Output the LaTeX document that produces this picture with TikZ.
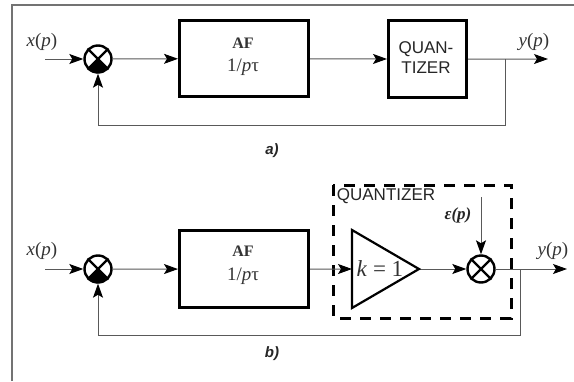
\documentclass[tikz,border=0pt]{standalone}
\usepackage{fontspec}
\setmainfont{Liberation Serif}
\newfontfamily\lsans{Liberation Sans}
\usetikzlibrary{arrows.meta,calc}
\definecolor{wire}{gray}{0.35}
\tikzset{
  wireline/.style={draw=wire,line width=1pt},
  sig/.style={wireline,-{Stealth[length=14pt,width=10pt,inset=3pt,color=black]}},
  block/.style={draw=black,line width=3.2pt,fill=white,inner sep=0pt,anchor=north west},
  mixer/.style={circle,draw=black,line width=2.4pt,minimum size=27pt,inner sep=0pt,fill=white},
  serif/.style={font=\fontsize{19}{21}\selectfont,text=black!80},
  aflab/.style={font=\bfseries\fontsize{16}{18}\selectfont,text=black!80},
  sanslab/.style={font=\lsans\fontsize{17}{19}\selectfont,text=black!85},
  caption/.style={font=\lsans\itshape\bfseries\fontsize{15}{17}\selectfont,text=black!85}
}
\newcommand{\mixcross}[1]{\draw[line width=2.2pt] (#1.45) -- (#1.225) (#1.135) -- (#1.315);}
\newcommand{\mixfill}[1]{\fill[black] (#1.center) -- (#1.225) arc[start angle=225,end angle=315,radius=13.5pt] -- cycle;}
\begin{document}
\begin{tikzpicture}[x=1pt,y=-1pt]
\useasboundingbox (0,0) rectangle (574,381);
\fill[white] (0,0) rectangle (574,381);
\draw[draw=black!55,line width=1.2pt] (12,381) -- (12,5) -- (574,5);

% panel a
\coordinate (xa) at (45,59);
\node[mixer] (suma) at (98,59) {};
\node[block,minimum width=129pt,minimum height=76pt] (afa) at (178,19) {};
\node[aflab] (afat) at (243,43) {AF};
\node[serif] (afaf) at (243,67) {1/\textit{p}τ};
\node[block,minimum width=78pt,minimum height=77pt] (qa) at (387,19) {};
\node[sanslab,align=center,inner sep=0pt] (qat) at (426,58) {QUAN-\\[1pt]TIZER};
\coordinate (ja) at (505,59);
\coordinate (ya) at (548,59);
\coordinate (fa) at (505,125);
\coordinate (fb) at (98,125);
\mixfill{suma}\mixcross{suma}
\draw[sig] (xa) -- (suma);
\draw[sig] (suma) -- (afa);
\draw[sig] (afa) -- (qa);
\draw[sig] (qa) -- (ya);
\draw[wireline] (ja) -- (fa) -- (fb);
\draw[sig] (fb) -- (suma);
\node[serif] (xal) at (42,42) {\textit{x}(\textit{p})};
\node[serif] (yal) at (534,42) {\textit{y}(\textit{p})};
\node[caption] (capa) at (272,151) {a)};

% panel b
\coordinate (xb) at (45,269);
\node[mixer] (sumb) at (98,269) {};
\node[block,minimum width=129pt,minimum height=77pt] (afb) at (178,229) {};
\node[aflab] (afbt) at (243,251) {AF};
\node[serif] (afbf) at (243,276) {1/\textit{p}τ};
\draw[draw=black,line width=3pt,dash pattern=on 11pt off 9pt] (333,185) rectangle (511,318);
\node[sanslab,inner sep=0pt] (qbt) at (386,196) {QUANTIZER};
\coordinate (t1) at (352,230);
\coordinate (t2) at (352,308);
\coordinate (t3) at (419,269);
\coordinate (tin) at (352,269);
\coordinate (e) at (481,197);
\node[mixer] (mb) at (481,269) {};
\mixcross{mb}
\coordinate (jb) at (520,269);
\coordinate (yb) at (567,269);
\coordinate (gb) at (520,335);
\coordinate (gc) at (98,335);
\mixfill{sumb}\mixcross{sumb}
\draw[sig] (xb) -- (sumb);
\draw[sig] (sumb) -- (afb);
\draw[sig] (afb) -- (tin);
\draw[sig] (t3) -- (mb);
\draw[sig] (e) -- (mb);
\draw[sig] (mb) -- (yb);
\draw[wireline] (jb) -- (gb) -- (gc);
\draw[sig] (gc) -- (sumb);
\draw[line width=2.2pt,line join=miter,fill=white] (t1) -- (t3) -- (t2) -- cycle;
\node[serif,font=\fontsize{23}{25}\selectfont,inner sep=0pt] (kl) at (380,269) {\textit{k} = 1};
\node[font=\bfseries\itshape\fontsize{17}{19}\selectfont,text=black!85] (el) at (458,215) {ε(\textit{p})};
\node[serif] (ybl) at (553,251) {\textit{y}(\textit{p})};
\node[serif] (xbl) at (42,251) {\textit{x}(\textit{p})};
\node[caption] (capb) at (272,354) {b)};
\end{tikzpicture}
\end{document}
